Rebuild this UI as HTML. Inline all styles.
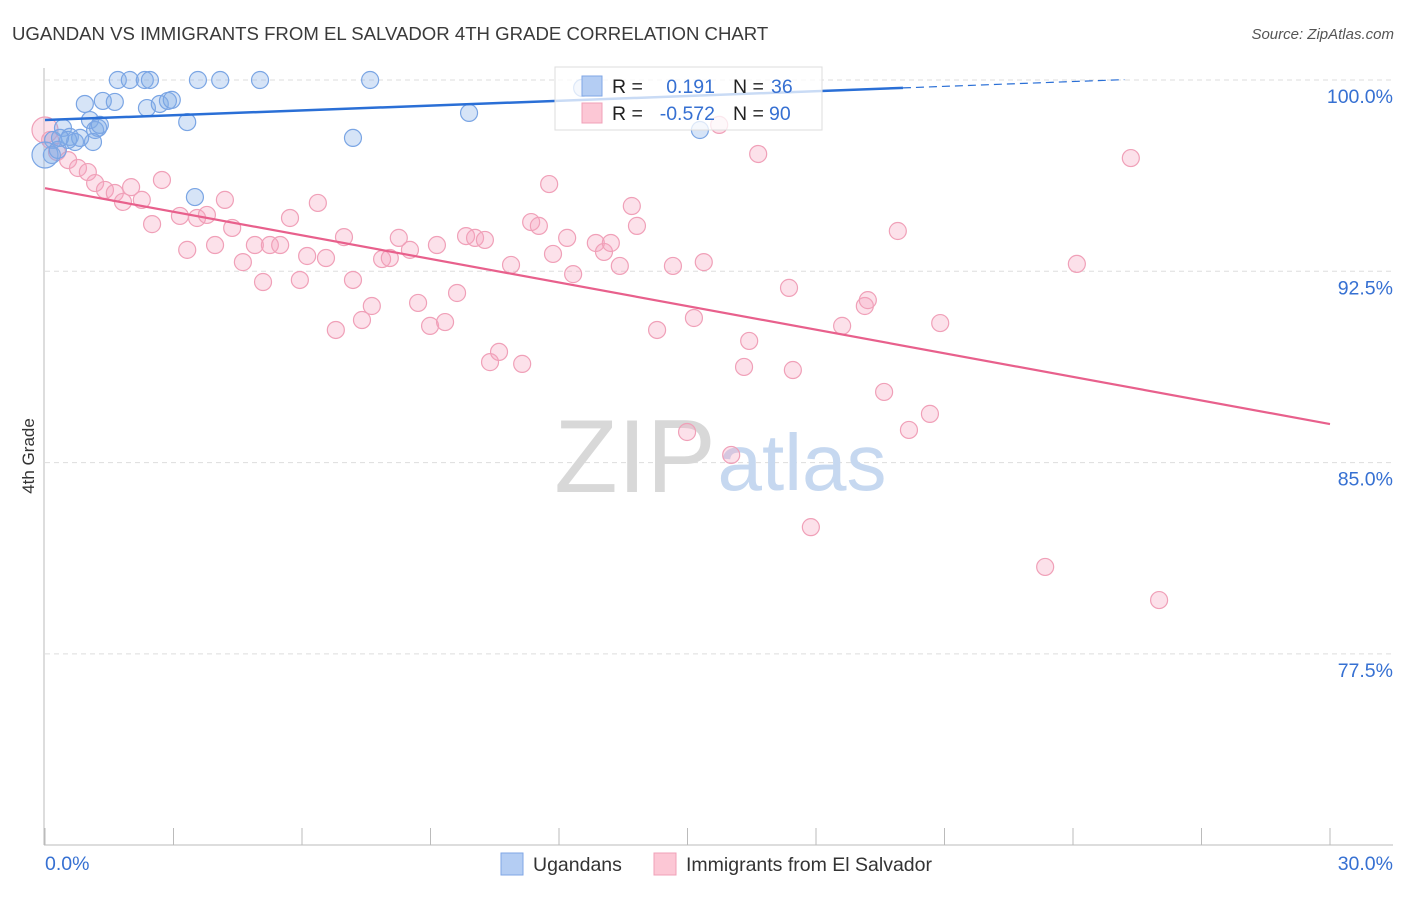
<!DOCTYPE html>
<html><head><meta charset="utf-8">
<style>
body{margin:0;background:#fff;font-family:"Liberation Sans",sans-serif;}
svg text{font-family:"Liberation Sans",sans-serif;}
</style></head>
<body>
<svg id="chart" width="1406" height="892" xmlns="http://www.w3.org/2000/svg">
<text x="12" y="40" font-size="18.6" fill="#3a3a3a">UGANDAN VS IMMIGRANTS FROM EL SALVADOR 4TH GRADE CORRELATION CHART</text>
<text x="1394" y="39" font-size="15" fill="#555" text-anchor="end" font-style="italic">Source: ZipAtlas.com</text>
<text transform="translate(34,456) rotate(-90)" font-size="17" fill="#333" text-anchor="middle">4th Grade</text>
<g id="grid"></g>
<g>
<text x="635" y="492" font-size="104" fill="#d8d8d8" text-anchor="middle" font-family="Liberation Serif,serif">ZIP</text>
<text x="802" y="490" font-size="80" fill="#c6d8f0" text-anchor="middle">atlas</text>
</g>
<g id="marks"></g>
<g id="lines"></g>
<g>
<rect x="555" y="67" width="267" height="63" fill="#fff" fill-opacity="0.75" stroke="#ddd"/>
<rect x="582" y="76" width="20" height="20" fill="#b4cdf3" stroke="#7fa6e6"/>
<rect x="582" y="103" width="20" height="20" fill="#fcc7d5" stroke="#f0a0b8"/>
<text x="612" y="93" font-size="19.5" fill="#222">R =</text>
<text x="715" y="93" font-size="19.5" fill="#3670d2" text-anchor="end">0.191</text>
<text x="733" y="93" font-size="19.5" fill="#222">N =</text>
<text x="771" y="93" font-size="19.5" fill="#3670d2">36</text>
<text x="612" y="120" font-size="19.5" fill="#222">R =</text>
<text x="715" y="120" font-size="19.5" fill="#3670d2" text-anchor="end">-0.572</text>
<text x="733" y="120" font-size="19.5" fill="#222">N =</text>
<text x="769" y="120" font-size="19.5" fill="#3670d2">90</text>
</g>
<g>
<rect x="501" y="853" width="22" height="22" fill="#b4cdf3" stroke="#7fa6e6"/>
<text x="533" y="871" font-size="19.5" fill="#333">Ugandans</text>
<rect x="654" y="853" width="22" height="22" fill="#fcc7d5" stroke="#f0a0b8"/>
<text x="686" y="871" font-size="19.5" fill="#333">Immigrants from El Salvador</text>
</g>
</svg>
<script>
const xTicks=[0,3,6,9,12,15,18,21,24,27,30];
const yTicks=[100,92.5,85,77.5];
const yTickLabels=["100.0%","92.5%","85.0%","77.5%"];
const xTickLabels=["0.0%","30.0%"];
const blueX=[1.70,1.98,2.33,2.45,3.57,4.09,5.02,7.59,0.93,1.35,1.63,2.38,2.68,2.87,2.96,3.32,3.50,7.19,9.90,15.29,12.54,0.19,0.42,0.58,0.70,1.05,1.17,1.24,1.12,0.16,0,0.30,0.54,0.82,1.28,0.35];
const blueY=[100,100,100,100,100,100,100,100,99.06,99.18,99.14,98.90,99.06,99.18,99.22,98.35,95.41,97.73,98.71,98.04,99.69,97.65,98.12,97.77,97.57,98.43,98.04,98.12,97.57,97.06,97.06,97.26,97.65,97.73,98.24,97.73];
const pinkX=[0,0.12,0.28,0.54,0.77,1.00,1.17,1.40,1.63,1.82,2.01,2.26,2.50,2.73,3.15,3.32,3.55,3.78,3.97,4.20,4.37,4.62,4.90,5.09,5.25,5.49,5.72,5.95,6.12,6.37,6.56,6.79,6.98,7.19,7.40,7.63,7.87,8.05,8.26,8.52,8.71,8.99,9.15,9.34,9.62,9.83,10.04,10.27,10.39,10.60,10.88,11.14,11.35,11.53,11.77,11.86,12.19,12.33,12.86,13.05,13.21,13.42,13.70,13.82,14.29,14.66,14.99,15.15,15.38,15.74,16.02,16.32,16.44,16.65,17.37,17.46,17.88,18.61,19.14,19.21,19.59,19.91,20.17,20.66,20.90,23.35,24.09,25.35,26.01];
const pinkY=[98.04,97.65,97.18,96.86,96.55,96.39,95.96,95.69,95.57,95.22,95.80,95.30,94.35,96.08,94.67,93.34,94.59,94.71,93.53,95.30,94.20,92.86,93.53,92.08,93.53,93.53,94.59,92.16,93.10,95.18,93.02,90.20,93.84,92.16,90.59,91.14,92.98,93.02,93.81,93.34,91.26,90.36,93.53,90.51,91.65,93.88,93.81,93.73,88.94,89.34,92.75,88.87,94.43,94.28,95.92,93.18,93.81,92.39,93.61,93.26,93.61,92.71,95.06,94.28,90.20,92.71,86.20,90.67,92.86,98.24,85.30,88.75,89.77,97.10,91.85,88.63,82.47,90.36,91.14,91.37,87.77,94.08,86.28,86.91,90.47,80.91,92.79,96.94,79.61];
const blueTrend=[98.43,0.0629];
const pinkTrend=[95.76,-0.3083];
const NS='http://www.w3.org/2000/svg';
const sx=v=>45+v*(1285/30);
const sy=v=>80+(100-v)*(191.3/7.5);
function mk(tag,attrs,parent){const e=document.createElementNS(NS,tag);for(const k in attrs)e.setAttribute(k,attrs[k]);parent.appendChild(e);return e;}
const grid=document.getElementById('grid');
const ax=mk('line',{x1:44,y1:68,x2:44,y2:845,stroke:'#bbb'},grid);


const bx=mk('line',{x1:44,y1:845,x2:1393,y2:845,stroke:'#bbb'},grid);


yTicks.forEach((t,i)=>{
 const g=mk('line',{x1:45,x2:1393,y1:sy(t),y2:sy(t),stroke:'#ddd','stroke-dasharray':'5,4'},grid);
 
 
 const l=mk('text',{x:1393,y:sy(t)+23,'font-size':19.5,fill:'#3670d2','text-anchor':'end'},grid);
 l.textContent=yTickLabels[i];
 
 
});
xTicks.forEach(t=>{
 const k=mk('line',{x1:sx(t),x2:sx(t),y1:828,y2:845,stroke:'#bbb'},grid);
 
 
});
[[0,'start',45],[30,'end',1393]].forEach((d,i)=>{
 const l=mk('text',{x:d[2],y:870,'font-size':19.5,fill:'#3670d2','text-anchor':d[1]},grid);
 l.textContent=xTickLabels[i];
 
 
});
const marks=document.getElementById('marks');
pinkX.forEach((x,i)=>{
 const c=mk('circle',{cx:sx(x),cy:sy(pinkY[i]),r:i==0?13:8.5,fill:'rgba(245,165,190,0.33)',stroke:'#f0a0b8','stroke-width':1.2},marks);
 
 
});
blueX.forEach((x,i)=>{
 const c=mk('circle',{cx:sx(x),cy:sy(blueY[i]),r:i==30?13:8.5,fill:'rgba(130,172,232,0.33)',stroke:'#7aa5e4','stroke-width':1.2},marks);
 
 
});
const lines=document.getElementById('lines');
const bt=v=>blueTrend[0]+blueTrend[1]*v, pt=v=>pinkTrend[0]+pinkTrend[1]*v;
const l1=mk('line',{x1:sx(0),y1:sy(bt(0)),x2:sx(20.03),y2:sy(bt(20.03)),stroke:'#2a6fd6','stroke-width':2.5},lines);


const l2=mk('line',{x1:sx(20.03),y1:sy(bt(20.03)),x2:sx(25.2),y2:sy(bt(25.2)),stroke:'#2a6fd6','stroke-width':1.2,'stroke-dasharray':'8,5'},lines);


const l3=mk('line',{x1:sx(0),y1:sy(pt(0)),x2:sx(30),y2:sy(pt(30)),stroke:'#e8608c','stroke-width':2.2},lines);


</script>
</body></html>
